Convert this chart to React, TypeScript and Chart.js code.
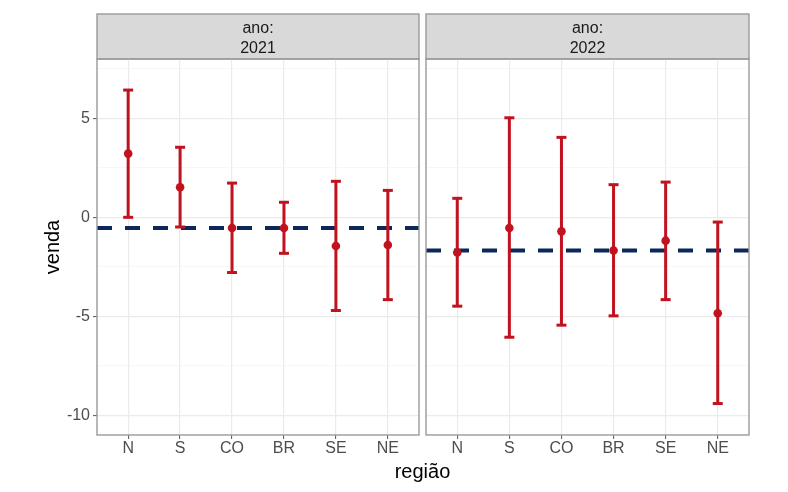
import React, { useEffect, useRef } from 'react';
import { Chart, registerables } from 'chart.js';

Chart.register(...registerables);

// ---------- data ----------
const regions = ['N', 'S', 'CO', 'BR', 'SE', 'NE'];
const years = ['2021', '2022'];

const mean2021 = [3.22, 1.52, -0.54, -0.54, -1.45, -1.4];
const lower2021 = [0.0, -0.49, -2.79, -1.82, -4.71, -4.16];
const upper2021 = [6.43, 3.54, 1.73, 0.76, 1.82, 1.36];

const mean2022 = [-1.78, -0.54, -0.71, -1.68, -1.18, -4.85];
const lower2022 = [-4.49, -6.06, -5.45, -4.98, -4.16, -9.41];
const upper2022 = [0.96, 5.03, 4.04, 1.65, 1.78, -0.24];

const overallMean = [-0.54, -1.68];

const yTicks = [-10, -7.5, -5, -2.5, 0, 2.5, 5, 7.5];
const yMin = -11;
const yMax = 8;

// ---------- layout / style ----------
const W = 788;
const H = 492;
const PANEL_TOP = 59;
const PANEL_BOTTOM = 435;
const STRIP_TOP = 14;
const PANELS = [
  { left: 97, right: 419 },
  { left: 426, right: 749 },
];
const FONT = "'Liberation Sans', Arial, Helvetica, sans-serif";
const RED = '#C1121F';
const NAVY = '#0B2859';
const BORDER = '#9A9A9A';
const GRID_MAJOR = '#EBEBEB';
const GRID_MINOR = '#F4F4F4';
const TICK_TEXT = '#4D4D4D';

function facetPlugin(year: string, drawXTitle: boolean) {
  return {
    id: 'facet' + year,
    beforeDraw(chart: any) {
      const { ctx, chartArea: a } = chart;
      ctx.save();
      ctx.fillStyle = '#D9D9D9';
      ctx.fillRect(a.left, STRIP_TOP, a.right - a.left, a.top - STRIP_TOP);
      ctx.strokeStyle = BORDER;
      ctx.lineWidth = 1.4;
      ctx.strokeRect(a.left, STRIP_TOP, a.right - a.left, a.top - STRIP_TOP);
      ctx.fillStyle = '#1A1A1A';
      ctx.font = `16px ${FONT}`;
      ctx.textAlign = 'center';
      ctx.textBaseline = 'alphabetic';
      const cx = (a.left + a.right) / 2;
      ctx.fillText('ano:', cx, STRIP_TOP + 18.8);
      ctx.fillText(year, cx, STRIP_TOP + 38.6);
      ctx.restore();
    },
    afterDraw(chart: any) {
      const { ctx, chartArea: a } = chart;
      ctx.save();
      ctx.strokeStyle = BORDER;
      ctx.lineWidth = 1.4;
      ctx.strokeRect(a.left, a.top, a.right - a.left, a.bottom - a.top);
      if (drawXTitle) {
        ctx.fillStyle = '#000';
        ctx.font = `20px ${FONT}`;
        ctx.textAlign = 'center';
        ctx.textBaseline = 'alphabetic';
        ctx.fillText('região', (PANELS[0].right + PANELS[1].left) / 2, 477.5);
      }
      ctx.restore();
    },
  };
}

function makeConfig(panel: number): any {
  const means = panel === 0 ? mean2021 : mean2022;
  const lows = panel === 0 ? lower2021 : lower2022;
  const highs = panel === 0 ? upper2021 : upper2022;
  const isFirst = panel === 0;
  const p = PANELS[panel];

  // vertical whiskers: pairs of points separated by gaps (null)
  const whiskers: { x: number; y: number | null }[] = [];
  const caps: { x: number; y: number }[] = [];
  regions.forEach((_, i) => {
    whiskers.push({ x: i, y: lows[i] });
    whiskers.push({ x: i, y: highs[i] });
    whiskers.push({ x: i + 0.5, y: null });
    caps.push({ x: i, y: lows[i] });
    caps.push({ x: i, y: highs[i] });
  });
  const pts = regions.map((_, i) => ({ x: i, y: means[i] }));

  return {
    type: 'line',
    data: {
      datasets: [
        {
          xAxisID: 'xl',
          data: [
            { x: 0, y: overallMean[panel] },
            { x: 1, y: overallMean[panel] },
          ],
          borderColor: NAVY,
          borderWidth: 4,
          borderDash: [15, 13],
          borderCapStyle: 'butt',
          pointRadius: 0,
          order: 3,
        },
        {
          data: whiskers,
          borderColor: RED,
          borderWidth: 3,
          borderCapStyle: 'butt',
          spanGaps: false,
          pointRadius: 0,
          order: 2,
        },
        {
          data: caps,
          showLine: false,
          pointStyle: 'line',
          pointRadius: 5,
          pointBorderWidth: 3,
          pointBorderColor: RED,
          pointBackgroundColor: RED,
          order: 1,
        },
        {
          data: pts,
          showLine: false,
          pointStyle: 'circle',
          pointRadius: 4.3,
          pointBorderWidth: 0,
          pointBackgroundColor: RED,
          pointBorderColor: RED,
          order: 0,
        },
      ],
    },
    options: {
      responsive: false,
      animation: false,
      events: [],
      layout: {
        padding: {
          left: isFirst ? 0 : p.left,
          right: W - p.right,
          top: PANEL_TOP,
          bottom: 0,
        },
      },
      plugins: {
        legend: { display: false },
        tooltip: { enabled: false },
      },
      scales: {
        x: {
          type: 'linear',
          min: -0.6,
          max: 5.6,
          offset: false,
          afterBuildTicks: (s: any) => {
            s.ticks = regions.map((_, i) => ({ value: i }));
          },
          afterFit: (s: any) => {
            s.height = H - PANEL_BOTTOM;
          },
          ticks: {
            callback: (_v: any, i: number) => regions[i],
            font: { family: FONT, size: 16 },
            color: TICK_TEXT,
            padding: 0,
            maxRotation: 0,
            autoSkip: false,
          },
          grid: {
            offset: false,
            color: GRID_MAJOR,
            lineWidth: 1.2,
            tickLength: 4,
            tickColor: '#555',
            tickWidth: 1,
          },
          border: { display: false },
        },
        xl: {
          type: 'linear',
          min: 0,
          max: 1,
          offset: false,
          display: false,
        },
        y: {
          type: 'linear',
          min: yMin,
          max: yMax,
          afterBuildTicks: (s: any) => {
            s.ticks = yTicks.map((v) => ({ value: v }));
          },
          afterFit: (s: any) => {
            s.width = isFirst ? p.left : 0;
          },
          ticks: {
            display: isFirst,
            callback: (v: number) => (v % 5 === 0 ? String(v) : ''),
            font: { family: FONT, size: 16 },
            color: TICK_TEXT,
            padding: 3,
          },
          grid: {
            color: (c: any) => (c.tick && c.tick.value % 5 === 0 ? GRID_MAJOR : GRID_MINOR),
            lineWidth: (c: any) => (c.tick && c.tick.value % 5 === 0 ? 1.2 : 0.7),
            drawTicks: isFirst,
            tickLength: 4,
            tickColor: (c: any) => (c.tick && c.tick.value % 5 === 0 ? '#555' : 'rgba(0,0,0,0)'),
            tickWidth: 1,
          },
          border: { display: false },
          title: {
            display: isFirst,
            text: 'venda',
            color: '#000',
            font: { family: FONT, size: 20 },
            padding: { top: 41, bottom: 0 },
          },
        },
      },
    },
    plugins: [facetPlugin(years[panel], !isFirst)],
  };
}

export default function App() {
  const ref1 = useRef<HTMLCanvasElement>(null);
  const ref2 = useRef<HTMLCanvasElement>(null);

  useEffect(() => {
    const c1 = new Chart(ref1.current as HTMLCanvasElement, makeConfig(0));
    const c2 = new Chart(ref2.current as HTMLCanvasElement, makeConfig(1));
    return () => {
      c1.destroy();
      c2.destroy();
    };
  }, []);

  return (
    <div style={{ position: 'fixed', left: 0, top: 0, width: W, height: H, background: '#fff' }}>
      <canvas ref={ref1} width={W} height={H} style={{ position: 'absolute', left: 0, top: 0 }} />
      <canvas ref={ref2} width={W} height={H} style={{ position: 'absolute', left: 0, top: 0 }} />
    </div>
  );
}
